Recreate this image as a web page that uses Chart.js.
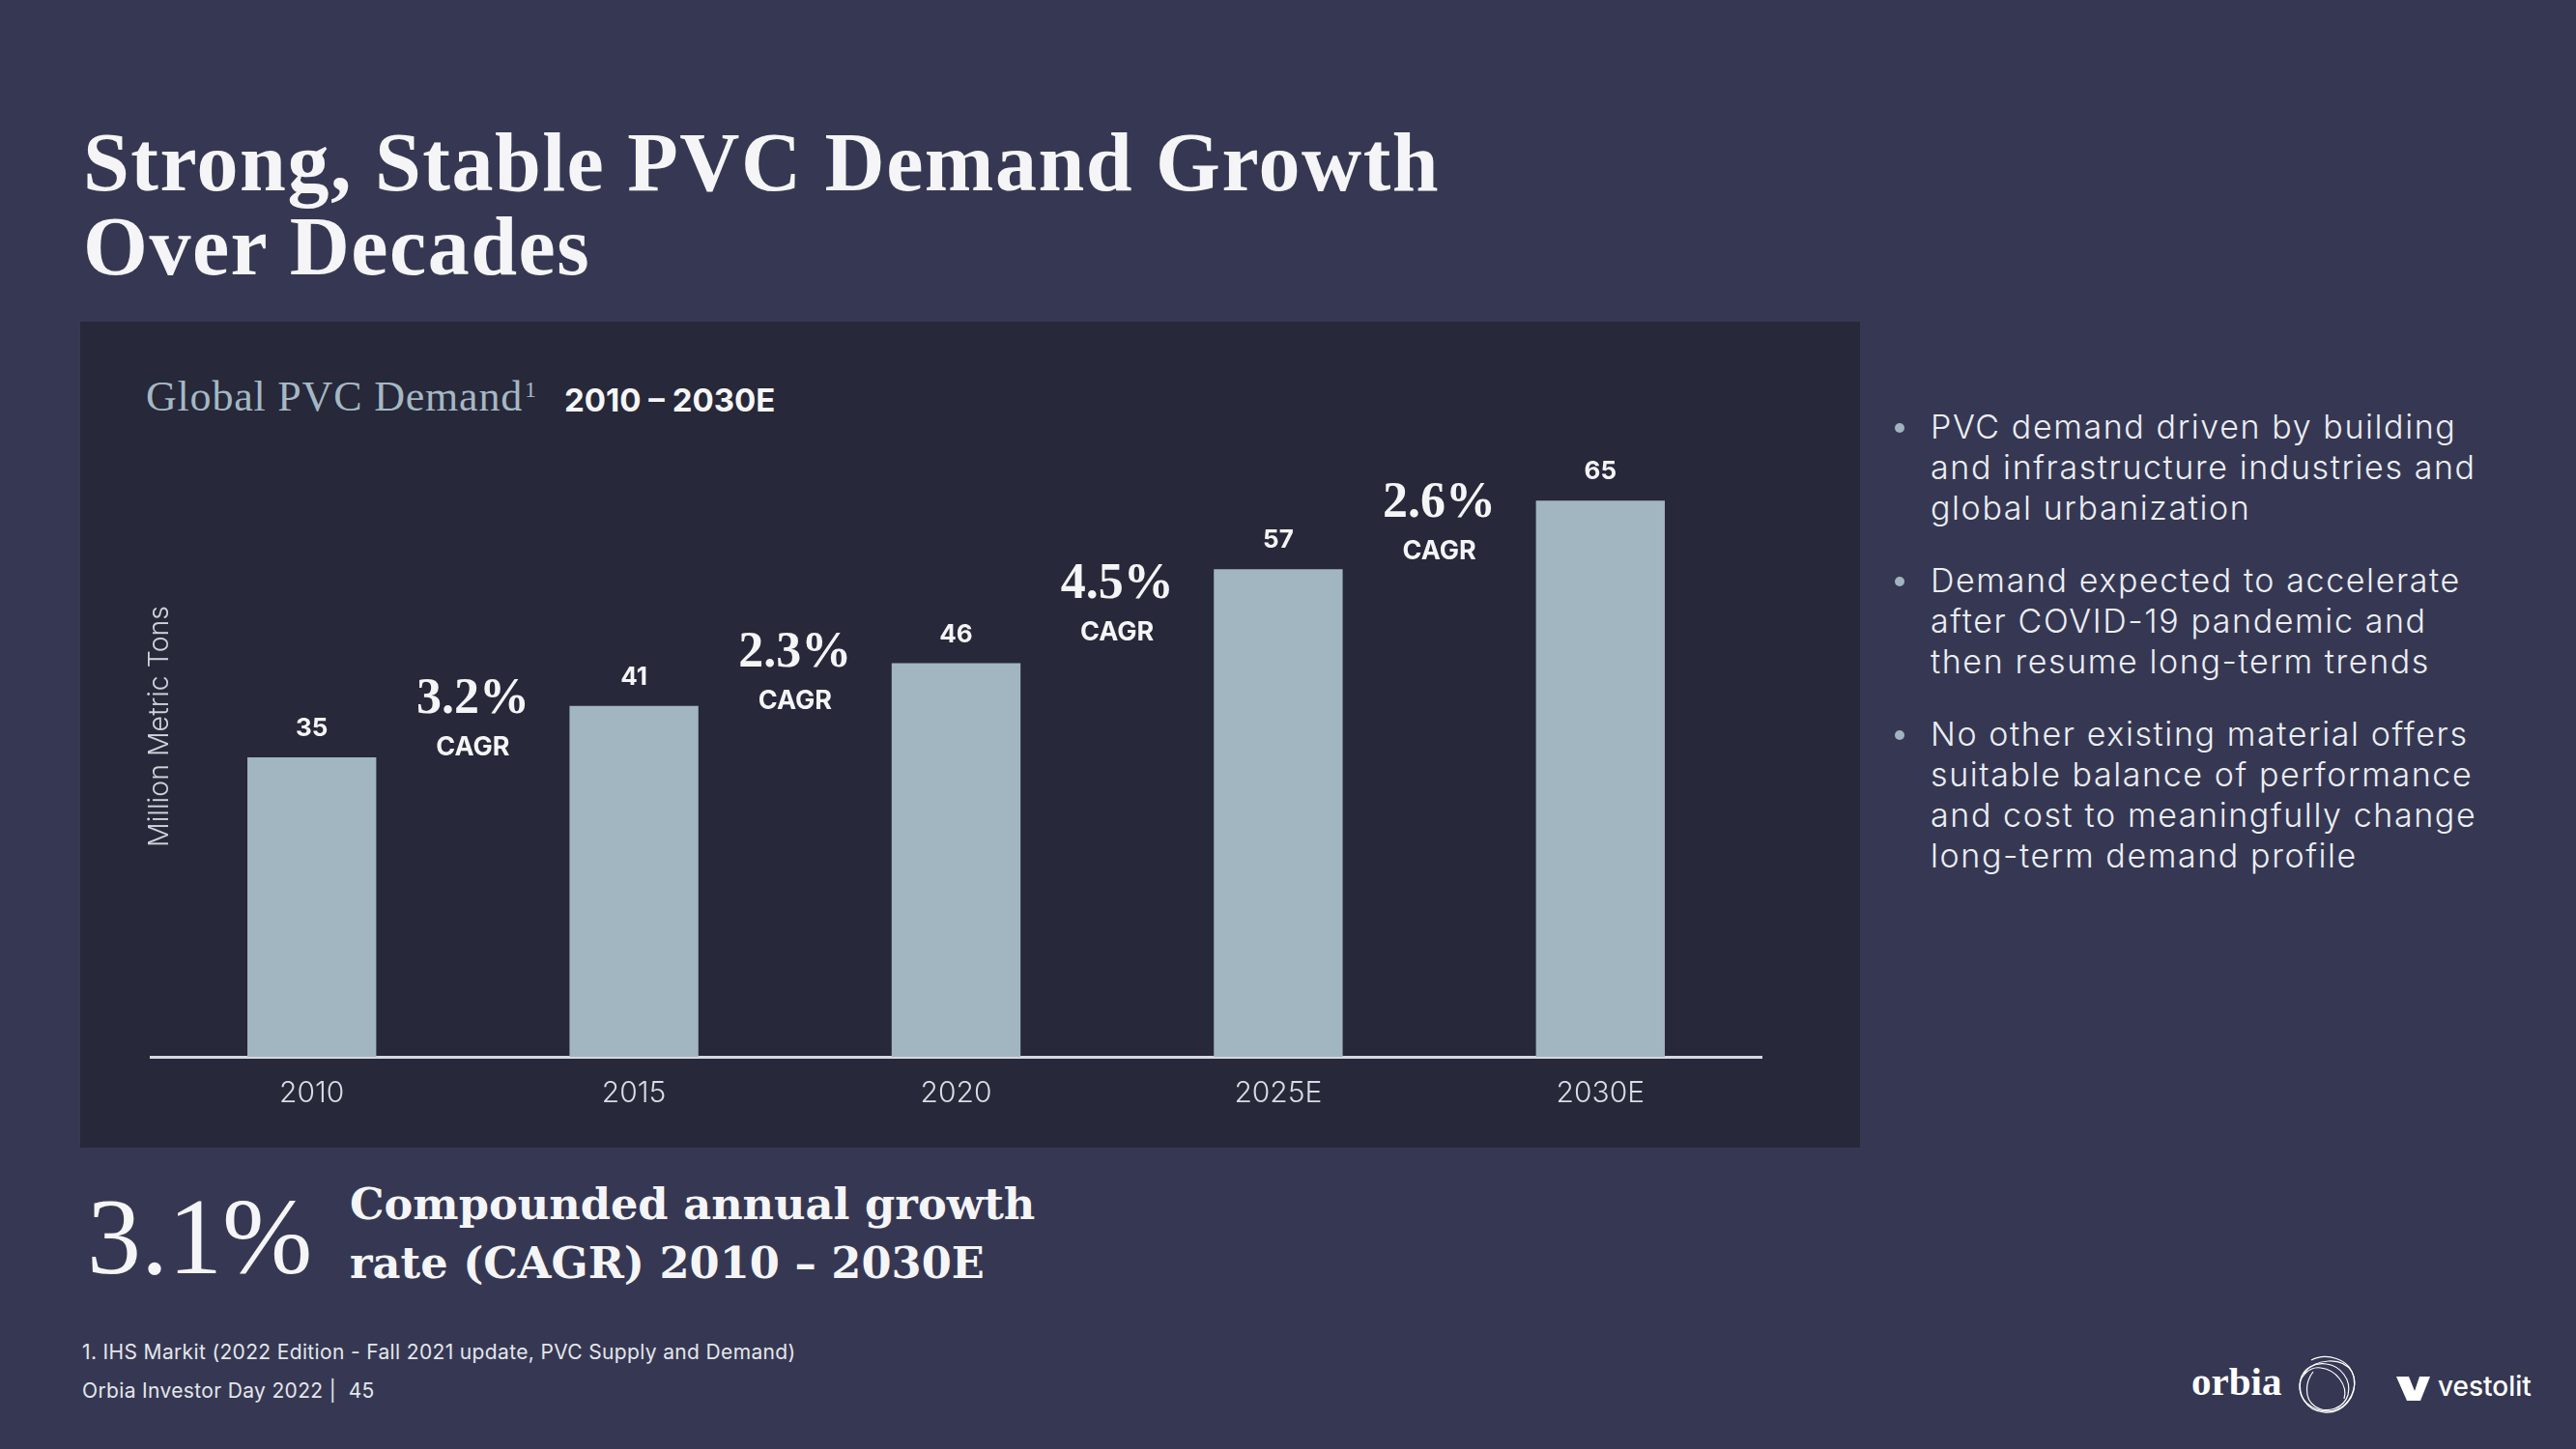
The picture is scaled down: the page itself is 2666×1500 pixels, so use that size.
<!DOCTYPE html>
<html>
<head>
<meta charset="utf-8">
<script src="https://cdn.jsdelivr.net/npm/chart.js@4.4.1/dist/chart.umd.min.js"></script>
<style>
  html,body{margin:0;padding:0;}
  body{width:2666px;height:1500px;background:#363853;position:relative;overflow:hidden;font-family:Inter,"Noto Sans",sans-serif;color:#f2f3f6;}
  .abs{position:absolute;white-space:nowrap;}
  #title{left:86px;top:125px;font-family:"Liberation Serif",serif;font-weight:700;font-size:86px;line-height:87px;letter-spacing:1.5px;color:#f5f5f7;}
  #panel{left:83px;top:333px;width:1842px;height:855px;background:#272839;}
  #chartTitle{left:151px;top:389px;font-family:"Liberation Serif",serif;font-size:44px;line-height:44px;letter-spacing:0.8px;color:#a4b8c4;}
  #chartTitle sup{font-size:24px;line-height:1;vertical-align:top;position:relative;top:2px;margin-left:2px;}
  #chartRange{left:584px;top:398px;font-weight:700;font-size:33px;line-height:33px;color:#f6f6f8;}
  #ytitle{left:164px;top:752px;transform:translate(-50%,-50%) rotate(-90deg);font-weight:300;font-size:28.5px;line-height:28px;color:#cfd3dc;}
  #cv{position:absolute;left:83px;top:333px;}
  #bullets{left:1966px;top:421px;font-weight:300;font-size:34px;line-height:42px;letter-spacing:1.6px;color:#eceef3;}
  .b{position:relative;padding-left:32px;margin-bottom:33px;}
  .b::before{content:"";position:absolute;left:-5px;top:17px;width:10px;height:10px;border-radius:50%;background:#9fb3c0;}
  #big{left:90px;top:1224px;font-family:"Liberation Serif",serif;font-size:112px;line-height:112px;color:#f5f5f7;}
  #bigText{left:362px;top:1216px;font-family:"DejaVu Serif",serif;font-weight:700;font-size:44.7px;line-height:61px;color:#f5f5f7;}
  #foot{left:85px;top:1380px;font-size:21px;line-height:40px;letter-spacing:0.35px;color:#e4e6ec;}
  #orbia{left:2268px;top:1410px;font-family:"Liberation Serif",serif;font-weight:700;font-size:41px;line-height:40px;color:#ffffff;}
  #vest{left:2523px;top:1421px;font-weight:500;font-size:28px;line-height:28px;color:#ffffff;}
</style>
</head>
<body>
<div id="title" class="abs">Strong, Stable PVC Demand Growth<br>Over Decades</div>
<div id="panel" class="abs"></div>
<div id="chartTitle" class="abs">Global PVC Demand<sup>1</sup></div>
<div id="chartRange" class="abs">2010 – 2030E</div>
<canvas id="cv" width="1842" height="855"></canvas>
<div id="ytitle" class="abs">Million Metric Tons</div>
<div id="bullets" class="abs">
  <div class="b">PVC demand driven by building<br>and infrastructure industries and<br>global urbanization</div>
  <div class="b">Demand expected to accelerate<br>after COVID-19 pandemic and<br>then resume long-term trends</div>
  <div class="b">No other existing material offers<br>suitable balance of performance<br>and cost to meaningfully change<br>long-term demand profile</div>
</div>
<div id="big" class="abs">3.1%</div>
<div id="bigText" class="abs">Compounded annual growth<br>rate (CAGR) 2010 – 2030E</div>
<div id="foot" class="abs">1. IHS Markit (2022 Edition - Fall 2021 update, PVC Supply and Demand)<br>Orbia Investor Day 2022 |&nbsp; 45</div>
<div id="orbia" class="abs">orbia</div>
<svg class="abs" style="left:2372px;top:1398px" width="72" height="70" viewBox="0 0 72 70">
  <g fill="none" stroke="#ffffff" stroke-width="1.2">
    <path d="M20 10 C35 2 60 8 64 28 C68 48 52 66 33 64 C14 62 6 46 9 30 C12 18 24 12 36 14 C50 16 62 30 58 46 C54 60 36 66 24 58 C12 50 14 32 22 22"/>
    <path d="M12 24 C24 8 52 6 62 22 C70 36 60 58 44 62 C28 66 10 56 8 40 C6 28 18 16 30 18 C46 20 58 36 54 50"/>
  </g>
</svg>
<svg class="abs" style="left:2480px;top:1425px" width="36" height="26" viewBox="0 0 36 26">
  <polygon points="0,0 13,0 19,15 24,0 35,0 25,25 11,25" fill="#ffffff"/>
</svg>
<div id="vest" class="abs">vestolit</div>

<script>
const categories = ['2010', '2015', '2020', '2025E', '2030E'];
const demand = [35, 41, 46, 57, 65];
const cagrLabels = ['3.2%', '2.3%', '4.5%', '2.6%'];
const yMin = 0;
const yMax = 70;

const annotate = {
  id: 'annotate',
  afterDatasetsDraw(chart) {
    const ctx = chart.ctx;
    const xs = chart.scales.x, ys = chart.scales.y;
    const meta = chart.getDatasetMeta(0);
    ctx.save();
    ctx.fillStyle = '#f4f5f7';
    ctx.textAlign = 'center';
    ctx.textBaseline = 'alphabetic';
    ctx.font = '700 26px Inter';
    meta.data.forEach((bar, i) => {
      ctx.fillText(String(demand[i]), bar.x, bar.y - 22);
    });
    cagrLabels.forEach((lab, i) => {
      const cx = (xs.getPixelForValue(i) + xs.getPixelForValue(i + 1)) / 2;
      const base = ys.getPixelForValue((demand[i] + demand[i + 1]) / 2) - 19;
      ctx.font = '700 52px "Liberation Serif"';
      ctx.fillText(lab, cx, base);
      ctx.font = '700 27px Inter';
      ctx.fillText('CAGR', cx, base + 44);
    });
    ctx.restore();
  }
};

new Chart(document.getElementById('cv'), {
  type: 'bar',
  data: {
    labels: categories,
    datasets: [{
      data: demand,
      backgroundColor: '#a1b6c1',
      borderWidth: 0,
      barPercentage: 0.4,
      categoryPercentage: 1.0
    }]
  },
  options: {
    responsive: false,
    devicePixelRatio: 1,
    animation: false,
    layout: { padding: { left: 73, right: 102, top: 141, bottom: 18 } },
    plugins: { legend: { display: false }, tooltip: { enabled: false } },
    scales: {
      x: {
        grid: { display: false, drawTicks: false, tickLength: 0 },
        border: { display: true, color: '#d5d9e0', width: 3 },
        ticks: { color: '#d8dce4', padding: 20, font: { family: 'Inter', size: 30, weight: 300 } }
      },
      y: { display: false, min: yMin, max: yMax }
    }
  },
  plugins: [annotate]
});
</script>
</body>
</html>
